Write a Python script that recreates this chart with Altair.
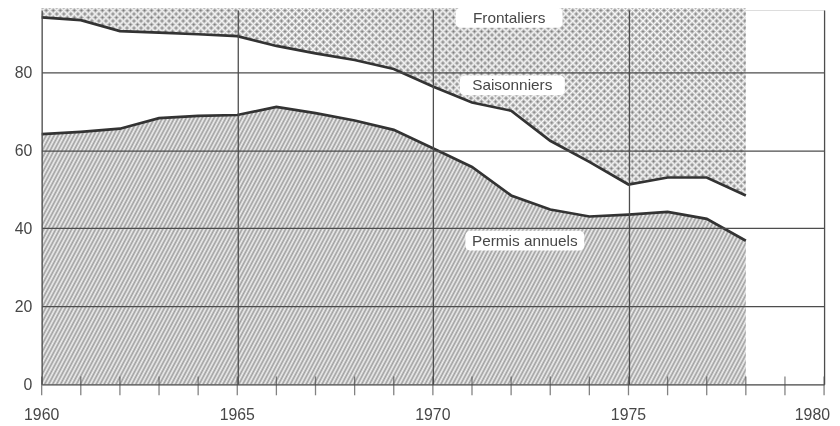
import math
import altair as alt
import pandas as pd

# ---- data (% of foreign workers) ----
years = [1960, 1961, 1962, 1963, 1964, 1965, 1966, 1967, 1968, 1969,
         1970, 1971, 1972, 1973, 1974, 1975, 1976, 1977, 1978]
permis_annuels = [64.1, 64.7, 65.5, 68.2, 68.8, 69.0, 71.1, 69.5, 67.6, 65.2,
                  60.5, 55.7, 48.4, 44.8, 43.0, 43.5, 44.2, 42.4, 36.8]
saisonniers = [29.9, 28.6, 25.0, 21.9, 20.9, 20.2, 15.6, 15.3, 15.5, 15.6,
               15.8, 16.5, 21.7, 17.6, 14.0, 7.7, 8.8, 10.6, 11.6]

tick_years = list(range(1960, 1981))
x_label_values = [1960, 1965, 1970, 1975]
x_last_label = [1980]
y_label_values = [0, 20, 40, 60, 80]

label_names = ["Frontaliers", "Saisonniers", "Permis annuels"]
label_years = [1971.95, 1972.03, 1972.35]
label_values = [93.9, 76.6, 36.8]

# ---- layout / style ----
W_PLOT, H_PLOT = 790, 378
Y_TOP = 95.9
PPU = H_PLOT / Y_TOP
PX_PER_YEAR = W_PLOT / 20.0
FONT = "Liberation Sans"
INK = "#333333"
GRID = "#4d4d4d"
TXT = "#474747"
box_widths = [108, 106, 120]

cumul = [round(p + s, 2) for p, s in zip(permis_annuels, saisonniers)]
df = pd.DataFrame({
    "year": years,
    "permis": permis_annuels,
    "cumul": cumul,
    "zero": [0] * len(years),
    "top": [100] * len(years),
})


def stripe_fill(W, H, theta, period, dark, light):
    th = math.radians(theta)
    gx = math.sin(th) / H
    gy = math.cos(th) / W
    x1 = 0.0
    y1 = 0.0 if gy >= 0 else 1.0
    c = (gx + abs(gy)) / (gx * gx + gy * gy)
    Gx, Gy = c * gx, c * gy
    L2 = Gx * Gx + Gy * Gy
    grad_px = math.hypot(Gx / W, Gy / H) / L2
    n = max(1, round((1.0 / grad_px) / period))
    stops = []
    for i in range(n):
        stops.append({"offset": i / n, "color": dark})
        stops.append({"offset": (i + 0.5) / n, "color": light})
    stops.append({"offset": 1.0, "color": dark})
    return {"gradient": "linear", "x1": x1, "y1": y1,
            "x2": x1 + Gx, "y2": y1 + Gy, "stops": stops}


W_area = (max(years) - min(years)) * PX_PER_YEAR
H_permis = max(permis_annuels) * PPU
H_front = (100 - min(cumul)) * PPU

hatch = stripe_fill(W_area, H_permis, 62, 4.0 * math.sin(math.radians(62)), "#9e9e9e", "#f0f0f0")
dotsA = stripe_fill(W_area, H_front, 45, 5.0, "#7a7a7a", "#f8f8f8")
dotsB = stripe_fill(W_area, H_front, 135, 5.0, "#7a7a7a", "#f8f8f8")

xs = alt.Scale(domain=[1960, 1980], nice=False, zero=False)
ys = alt.Scale(domain=[0, Y_TOP], nice=False, zero=True)

x_axis = alt.Axis(values=x_label_values + x_last_label, grid=True, gridColor=GRID,
                  gridWidth=1.3, domain=False, ticks=False, labels=False,
                  title=None, zindex=1)
y_axis = alt.Axis(values=y_label_values, grid=True, gridColor=GRID, gridWidth=1.3,
                  domain=False, ticks=False, labelFont=FONT, labelFontSize=16,
                  labelColor=TXT, labelPadding=10, title=None, zindex=1)

base = alt.Chart(df)

area_permis = base.mark_area(fill=hatch).encode(
    x=alt.X("year:Q", scale=xs, axis=x_axis),
    y=alt.Y("permis:Q", scale=ys, axis=y_axis),
    y2="zero:Q",
)
area_frontA = base.mark_area(fill=dotsA).encode(
    x=alt.X("year:Q", scale=xs), y=alt.Y("cumul:Q", scale=ys), y2="top:Q")
area_frontB = base.mark_area(fill=dotsB, blend="lighten").encode(
    x=alt.X("year:Q", scale=xs), y=alt.Y("cumul:Q", scale=ys), y2="top:Q")

line_permis = base.mark_line(color=INK, strokeWidth=2.7).encode(
    x=alt.X("year:Q", scale=xs), y=alt.Y("permis:Q", scale=ys))
line_cumul = base.mark_line(color=INK, strokeWidth=2.7).encode(
    x=alt.X("year:Q", scale=xs), y=alt.Y("cumul:Q", scale=ys))

ticks = alt.Chart(pd.DataFrame({"year": tick_years, "v": [0] * len(tick_years)})).mark_tick(
    orient="vertical", size=19, thickness=1.3, color=GRID, yOffset=1.5
).encode(x=alt.X("year:Q", scale=xs), y=alt.Y("v:Q", scale=ys))

xlab = alt.Chart(pd.DataFrame({"year": x_label_values, "v": [0] * len(x_label_values)})).mark_text(
    font=FONT, fontSize=16, color=TXT, baseline="middle", align="center", dy=31
).encode(x=alt.X("year:Q", scale=xs), y=alt.Y("v:Q", scale=ys), text=alt.Text("year:Q", format="d"))
xlab_last = alt.Chart(pd.DataFrame({"year": x_last_label, "v": [0]})).mark_text(
    font=FONT, fontSize=16, color=TXT, baseline="middle", align="right", dy=31, dx=6
).encode(x=alt.X("year:Q", scale=xs), y=alt.Y("v:Q", scale=ys), text=alt.Text("year:Q", format="d"))

lab_df = pd.DataFrame({"name": label_names, "year": label_years, "value": label_values})
boxes = []
for nm, bw in zip(label_names, box_widths):
    boxes.append(
        alt.Chart(lab_df[lab_df["name"] == nm]).mark_rect(
            width=bw, height=20, color="white", cornerRadius=5
        ).encode(x=alt.X("year:Q", scale=xs), y=alt.Y("value:Q", scale=ys))
    )
texts = alt.Chart(lab_df).mark_text(
    font=FONT, fontSize=15.5, color=TXT, baseline="middle", align="center"
).encode(x=alt.X("year:Q", scale=xs), y=alt.Y("value:Q", scale=ys), text="name:N")

chart = alt.layer(
    area_permis, area_frontA, area_frontB, line_permis, line_cumul, ticks,
    xlab, xlab_last, *boxes, texts
).properties(
    width=W_PLOT, height=H_PLOT,
    autosize=alt.AutoSizeParams(type="none"),
    padding={"left": 34, "top": 0, "right": 8, "bottom": 40},
).configure_view(stroke=None).configure(background="white")

chart.save("out.html", embed_options={"renderer": "svg", "actions": False})
